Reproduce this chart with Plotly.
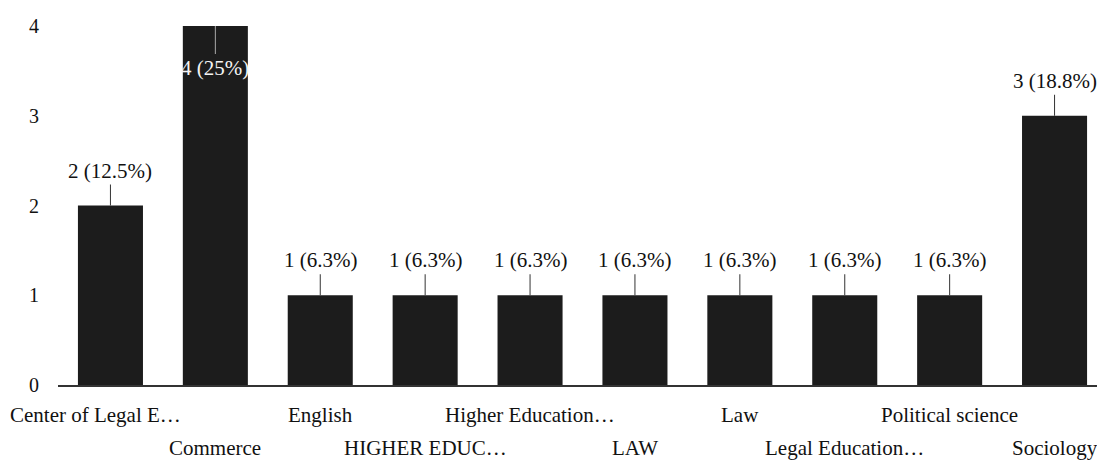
import plotly.graph_objects as go

categories = ["Center of Legal E…", "Commerce", "English", "HIGHER EDUC…", "Higher Education…",
              "LAW", "Law", "Legal Education…", "Political science", "Sociology"]
values = [2, 4, 1, 1, 1, 1, 1, 1, 1, 3]
labels = ["2 (12.5%)", "4 (25%)", "1 (6.3%)", "1 (6.3%)", "1 (6.3%)", "1 (6.3%)",
          "1 (6.3%)", "1 (6.3%)", "1 (6.3%)", "3 (18.8%)"]
y_ticks = [0, 1, 2, 3, 4]

font_family = "Liberation Serif"

fig = go.Figure()
fig.add_trace(go.Bar(x=categories, y=values, marker=dict(color="#1c1c1c", line=dict(width=0)),
                     width=0.62, hoverinfo="skip"))

# value labels with leader lines
for c, v, t in zip(categories, values, labels):
    if v >= max(values):
        fig.add_annotation(x=c, y=v, text=t, showarrow=True, arrowhead=0, arrowwidth=1,
                           arrowcolor="#aaaaaa", ax=0, ay=28, yanchor="top",
                           font=dict(family=font_family, size=21, color="#f4f4f4"))
    else:
        fig.add_annotation(x=c, y=v, text=t, showarrow=True, arrowhead=0, arrowwidth=1,
                           arrowcolor="#333333", ax=0, ay=-21, yanchor="bottom",
                           font=dict(family=font_family, size=21, color="#111111"))

# staggered category labels
for i, c in enumerate(categories):
    fig.add_annotation(x=c, y=0, yref="y", text=c, showarrow=False,
                       yanchor="middle", yshift=-30 if i % 2 == 0 else -63,
                       xshift=-15 if i == 0 else 0,
                       font=dict(family=font_family, size=21, color="#111111"))

fig.update_layout(
    width=1105, height=462,
    margin=dict(l=50, r=6, t=18, b=85),
    paper_bgcolor="white", plot_bgcolor="white",
    showlegend=False,
    bargap=0.38,
    font=dict(family=font_family, size=20, color="#111111"),
    xaxis=dict(showticklabels=False, showline=True, linecolor="#333333", linewidth=2,
               ticks="", showgrid=False, range=[-0.5, 9.5], autorange=False, automargin=False),
    yaxis=dict(range=[0, 4], tickvals=y_ticks, showgrid=False, zeroline=False, automargin=False,
               showline=False, ticks="", ticklabelstandoff=18, tickfont=dict(size=20)),
)

fig.write_html("out.html")
